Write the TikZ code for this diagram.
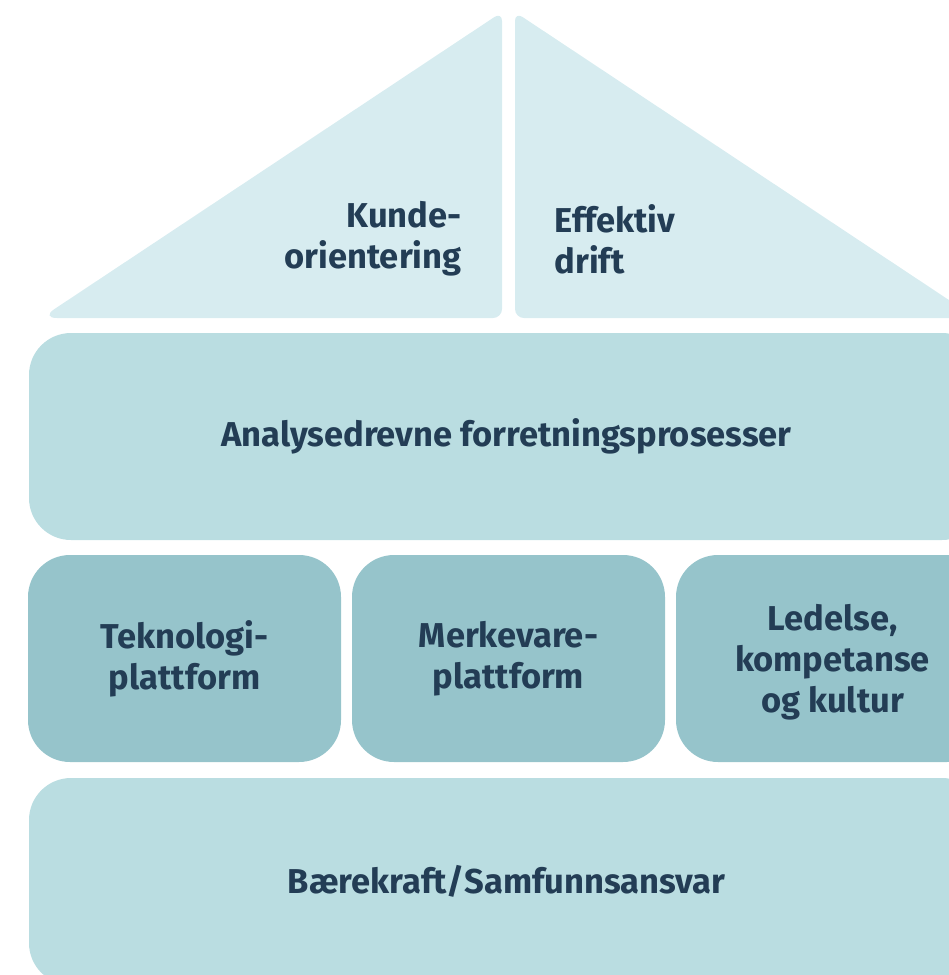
\documentclass[tikz,border=0pt]{standalone}
\usepackage{fontspec}
\setmainfont{Fira Sans}
\definecolor{tak}{HTML}{D7ECF0}
\definecolor{bjelke}{HTML}{BADDE1}
\definecolor{soyle}{HTML}{96C4CB}
\definecolor{skrift}{HTML}{233D55}
\tikzset{
  etikett/.style={text=skrift, font=\bfseries\fontsize{34.5}{41}\selectfont},
  bjelkeboks/.style={fill=bjelke, rounded corners=42pt, minimum width=955pt, minimum height=207pt, etikett, align=center},
  soyleboks/.style={fill=soyle, rounded corners=42pt, minimum width=313pt, minimum height=207pt, etikett, align=center}
}
\begin{document}
\begin{tikzpicture}[x=1pt, y=-1pt]
    \useasboundingbox (0, 0) rectangle (949, 975);

    % Tak
    \fill [tak, rounded corners=9pt] (502, 12) -- (502, 318) [rounded corners=16pt] -- (41, 318) [rounded corners=9pt] -- cycle;
    \fill [tak, rounded corners=9pt] (515, 12) [rounded corners=16pt] -- (976, 318) [rounded corners=9pt] -- (515, 318) -- cycle;
    \node [etikett, align=right, anchor=east] (kunde) at (465, 239) {Kunde-\\orientering};
    \node [etikett, align=left, anchor=west] (drift) at (551, 239) {Effektiv\\drift};

    % Bjelker
    \node [bjelkeboks] (analyse) at (506.5, 436.5) {\raisebox{-2pt}{Analysedrevne forretningsprosesser}};
    \node [bjelkeboks] (baerekraft) at (506.5, 881.5) {Bærekraft/Samfunnsansvar};

    % Søyler
    \node [soyleboks] (teknologi) at (184.5, 658.5) {Teknologi-\\plattform};
    \node [soyleboks] (merkevare) at (508.5, 658.5) {Merkevare-\\plattform};
    \node [soyleboks] (ledelse) at (832.5, 658.5) {};
    \node [etikett, align=center] (ledelsetekst) at ([yshift=-4pt]ledelse.center) {Ledelse,\\kompetanse\\og kultur};
\end{tikzpicture}
\end{document}
